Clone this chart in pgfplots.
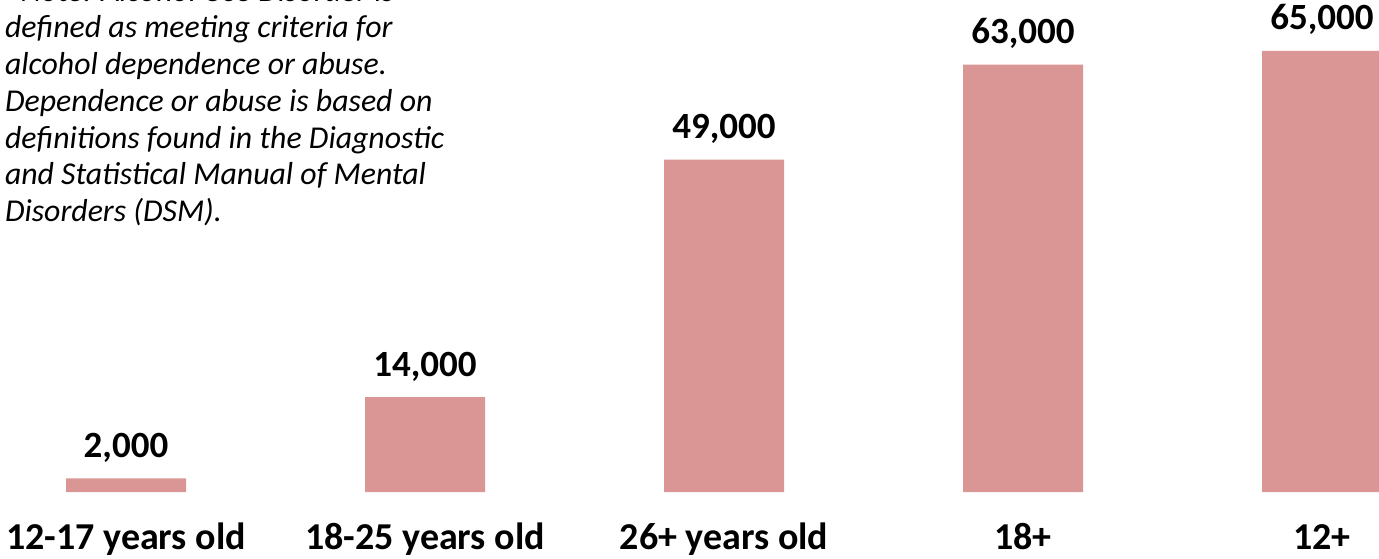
\documentclass[border=0pt]{standalone}
\usepackage{pgfplots}
\pgfplotsset{compat=1.18}
\usepackage{fontspec}
\setmainfont{Carlito}
\definecolor{barcol}{HTML}{DA9694}
\newcommand{\lab}{\fontsize{18.5pt}{22pt}\selectfont\bfseries}
\newcommand{\xlab}{\fontsize{19pt}{22pt}\selectfont\bfseries}
\newcommand{\notefont}{\fontsize{15.9pt}{18.35pt}\selectfont\itshape}
\begin{document}
\begin{tikzpicture}
\useasboundingbox (0,0) rectangle (689.5pt,279pt);
\clip (0,0) rectangle (689.5pt,279pt);
\begin{axis}[
  at={(0,0)}, anchor=south west,
  scale only axis, width=689.5pt, height=279pt,
  xmin=-0.4214, xmax=4.1906, ymin=-9727, ymax=72513,
  axis line style={draw=none}, major tick length=0pt,
  ytick=\empty,
  xtick=data,
  xticklabels={12-17 years old,18-25 years old,26+ years old,18+,12+},
  xticklabel style={font=\xlab, anchor=base, inner sep=0pt, yshift=4.5pt},
  ybar, bar width=60pt, bar shift=0pt,
  nodes near coords={\pgfmathprintnumber[fixed,precision=0,1000 sep={,},assume math mode=true]{\pgfplotspointmeta}},
  every node near coord/.append style={font=\lab, anchor=base, inner sep=0pt, yshift=10.5pt},
  clip=false,
]
\addplot[fill=barcol, draw=none] coordinates {(0,2000) (1,14000) (2,49000) (3,63000) (4,65000)};
\end{axis}
\foreach \t [count=\k from 0] in {{*Note: Alcohol Use Disorder is},{defined as meeting criteria for},{alcohol dependence or abuse.},{Dependence or abuse is based on},{definitions found in the Diagnostic},{and Statistical Manual of Mental},{Disorders (DSM).}}
  \node[anchor=base west, inner sep=0pt, font=\notefont] at (2.3pt, 279pt-0.65pt-\k*18.35pt) {\t};
\end{tikzpicture}
\end{document}
